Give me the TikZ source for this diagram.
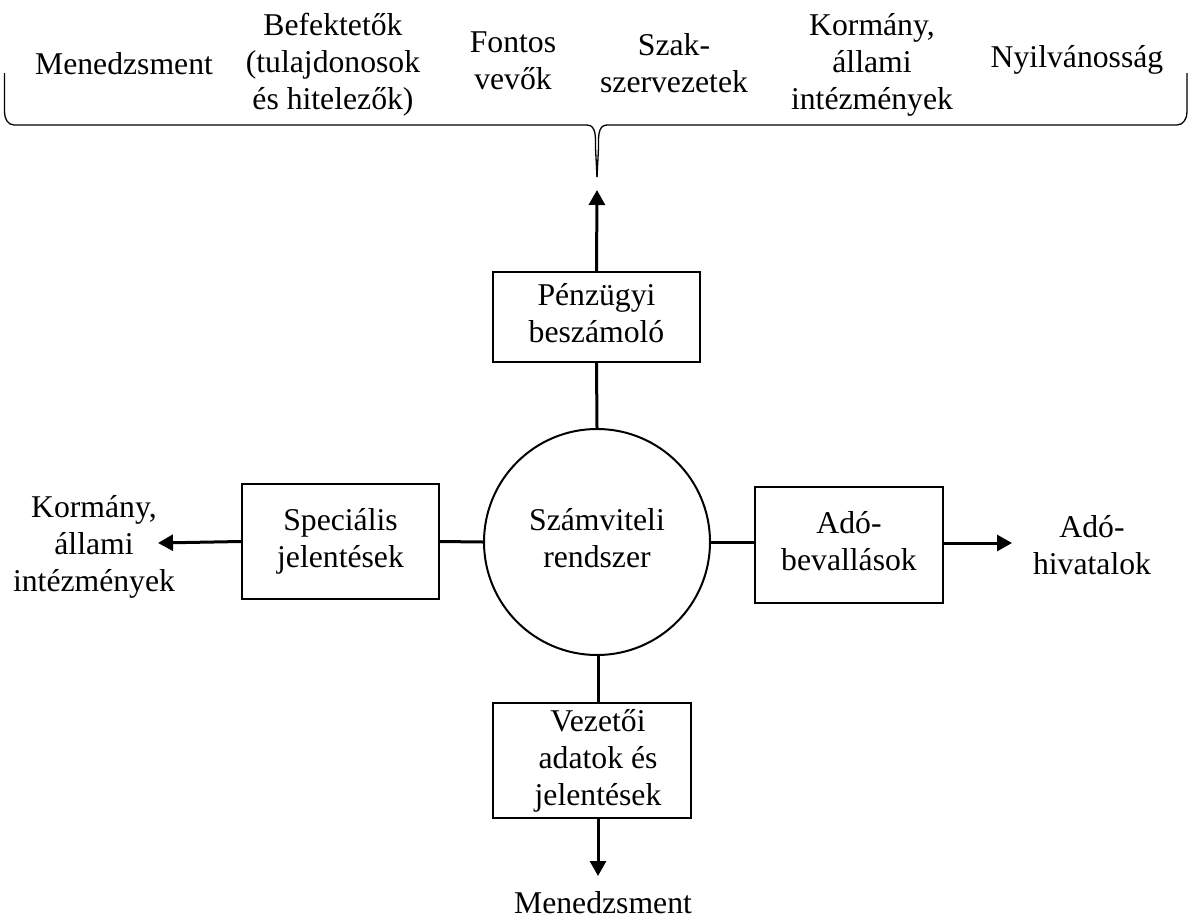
\documentclass[tikz,border=0pt]{standalone}
\usepackage{fontspec}
\setmainfont{Liberation Serif}
\usetikzlibrary{arrows.meta}
\newcommand{\mlt}[1]{\begin{tabular}[t]{@{}c@{}}#1\end{tabular}}
\newcommand{\mlc}[1]{\begin{tabular}{@{}c@{}}#1\end{tabular}}
\tikzset{
  lbl/.style={inner sep=0pt, anchor=base, font=\fontsize{31.7}{37}\selectfont},
  boxnode/.style={draw, line width=2pt, inner sep=0pt, font=\fontsize{31.7}{37}\selectfont},
  conn/.style={line width=3pt},
  arr/.style={line width=3pt, -{Triangle[length=15pt,width=16pt]}},
  brace/.style={line width=1.3pt}
}
\begin{document}
\begin{tikzpicture}[x=1pt,y=-1pt]
\useasboundingbox (0,0) rectangle (1190,921);
% top labels
\node[lbl] (t1) at (124,74) {Menedzsment};
\node[lbl] (t2) at (333,35) {\mlt{Befektetők\\(tulajdonosok\\és hitelezők)}};
\node[lbl] (t3) at (513,52) {\mlt{Fontos\\vevők}};
\node[lbl] (t4) at (674,55) {\mlt{Szak-\\szervezetek}};
\node[lbl] (t5) at (872,35) {\mlt{Kormány,\\állami\\intézmények}};
\node[lbl] (t6) at (1077,67) {Nyilvánosság};
% brace
\coordinate (btip) at (597,177);
\draw[brace] (4.5,73) -- (4.5,112) to[out=-90,in=180] (14,125) -- (587,125) to[out=0,in=90] (595.5,148) -- (btip);
\draw[brace] (1187,73) -- (1187,112) to[out=-90,in=0] (1177,125) -- (607,125) to[out=180,in=90] (598.5,148) -- (btip);
% central
\node[draw, circle, line width=2pt, minimum size=226pt, inner sep=0pt, font=\fontsize{31.7}{37}\selectfont] (circ) at (597,542) {\mlc{Számviteli\\rendszer}};
\node[boxnode, minimum width=207pt, minimum height=90pt] (pb) at (596.5,317) {\mlc{Pénzügyi\\beszámoló}};
\node[boxnode, minimum width=197pt, minimum height=115pt] (sj) at (340.5,541.5) {\mlc{Speciális\\jelentések}};
\node[boxnode, minimum width=188pt, minimum height=116pt] (ab) at (849,545) {\mlc{Adó-\\bevallások}};
\node[boxnode, minimum width=198pt, minimum height=115pt] (va) at (592,760.5) {};
\node[lbl] (vat) at (598,731.5) {\mlt{Vezetői\\adatok és\\jelentések}};
% outer labels
\node[lbl] (kl) at (94,517) {\mlt{Kormány,\\állami\\intézmények}};
\node[lbl] (ah) at (1092,537) {\mlt{Adó-\\hivatalok}};
\node[lbl] (mb) at (603,913) {Menedzsment};
% connectors
\coordinate (atop) at (597,190);
\coordinate (aleft) at (158,543);
\coordinate (aright) at (1012,543);
\coordinate (abot) at (598,876);
\draw[conn] (circ.north) -- (pb.south);
\draw[arr] (pb.north) -- (atop);
\draw[conn] (circ.west) -- (sj.east);
\draw[arr] (sj.west) -- (aleft);
\draw[conn] (circ.east) -- (circ.east -| ab.west);
\draw[arr] (ab.east |- aright) -- (aright);
\draw[conn] (598,654) -- (598,702.5);
\draw[arr] (598,818) -- (abot);
\end{tikzpicture}
\end{document}
